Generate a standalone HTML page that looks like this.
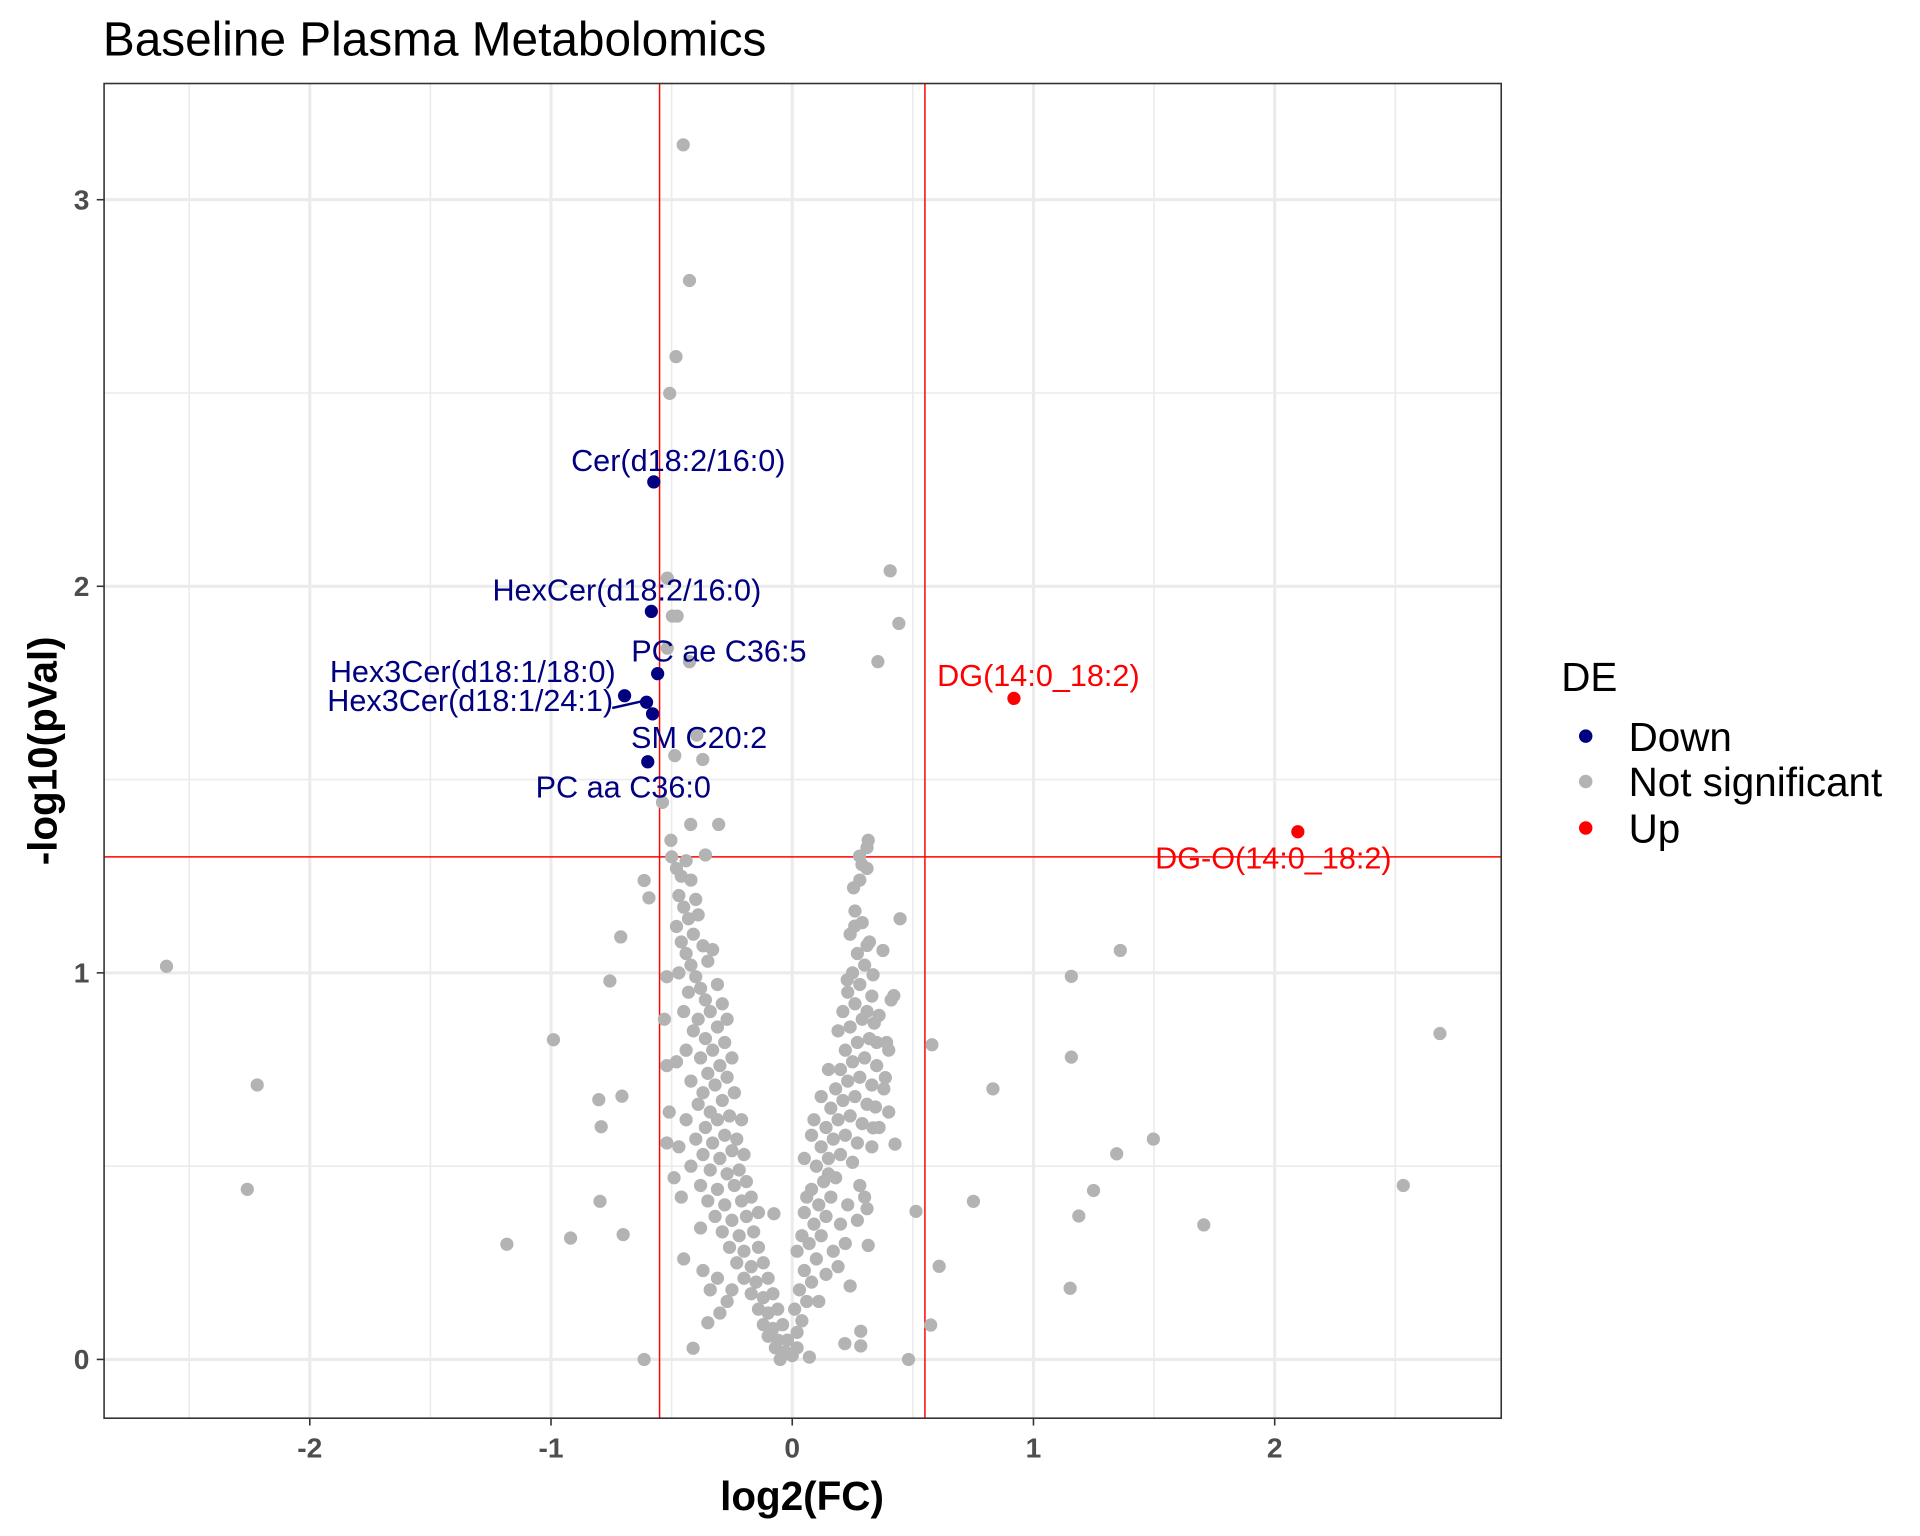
<!DOCTYPE html>
<html><head><meta charset="utf-8"><style>
html,body{margin:0;padding:0;background:#fff;}
svg{display:block;font-family:"Liberation Sans",Arial,sans-serif;}
</style></head><body>
<svg id="chart" width="1920" height="1536" viewBox="0 0 1568 1254" xmlns="http://www.w3.org/2000/svg">
<rect x="0" y="0" width="1568" height="1254" fill="#fff"/>
<text x="84" y="45" font-size="39" fill="#000">Baseline Plasma Metabolomics</text>
<g id="grid"></g>
<g id="thresholds"></g>
<g id="points"></g>
<g id="labels"></g>
<rect x="85" y="68" width="1141" height="1090" fill="none" stroke="#333" stroke-width="1.3"/>
<g id="axes"></g>
<text x="655" y="1233" font-size="33" font-weight="bold" text-anchor="middle">log2(FC)</text>
<text transform="translate(46,613) rotate(-90)" font-size="33" font-weight="bold" text-anchor="middle">-log10(pVal)</text>
<g>
<text x="1275" y="564" font-size="33">DE</text>
<circle cx="1295" cy="601" r="5.5" fill="#000080"/>
<text x="1330" y="613" font-size="33">Down</text>
<circle cx="1295" cy="638" r="5.5" fill="#B3B3B3"/>
<text x="1330" y="650" font-size="33">Not significant</text>
<circle cx="1295" cy="676" r="5.5" fill="#FF0000"/>
<text x="1330" y="688" font-size="33">Up</text>
</g>
</svg>
<script>
const xTicks=[-2,-1,0,1,2];
const xMinor=[-2.5,-1.5,-0.5,0.5,1.5,2.5];
const yTicks=[0,1,2,3];
const yMinor=[0.5,1.5,2.5];
const fcCut=[-0.55,0.55];
const pCut=1.3;
const grayX=[-2.594,-2.218,-2.259,-1.183,-0.919,-0.701,-0.797,-0.990,-0.756,-0.711,-0.792,-0.802,-0.706,-0.614,-0.594,-0.452,-0.426,-0.482,-0.508,-0.518,-0.497,-0.477,0.406,0.442,0.355,1.157,1.360,1.157,0.832,1.497,1.345,1.249,1.188,0.751,0.513,1.706,2.533,2.685,1.152,0.609,0.574,0.482,0.579,0.426,0.447,-0.614,-0.411,-0.350,0.284,0.284,0.218,0.071,-0.076,0.315,0.310,
-0.396,-0.371,-0.487,-0.305,-0.421,-0.360,-0.538,-0.503,0.315,0.310,0.279,0.289,0.254,0.259,0.310,0.376,0.335,0.228,0.421,0.391,0.386,0.345,0.335,-0.518,-0.426,
-0.50,-0.48,-0.46,-0.44,-0.42,-0.47,-0.45,-0.40,-0.43,-0.48,-0.46,-0.41,-0.39,-0.44,-0.37,-0.42,-0.47,-0.40,-0.35,-0.33,-0.38,-0.43,-0.36,-0.31,-0.45,-0.39,-0.34,-0.29,-0.41,-0.36,-0.31,-0.27,-0.44,-0.38,-0.33,-0.28,-0.48,-0.35,-0.30,-0.25,-0.42,-0.37,-0.32,-0.27,-0.39,-0.34,-0.29,-0.24,-0.44,-0.36,-0.31,-0.26,-0.21,-0.40,-0.33,-0.28,-0.23,-0.47,-0.37,-0.30,-0.25,-0.20,-0.42,-0.34,-0.27,-0.22,-0.38,-0.31,-0.24,-0.19,-0.35,-0.28,-0.21,-0.17,-0.32,-0.25,-0.19,-0.14,-0.29,-0.22,-0.16,-0.26,-0.20,-0.14,-0.23,-0.17,-0.12,-0.20,-0.15,-0.10,-0.25,-0.17,-0.12,-0.08,-0.14,-0.10,-0.06,-0.12,-0.08,-0.04,-0.10,-0.06,-0.02,-0.07,-0.03,0.00,-0.05,0.02,
-0.52,-0.53,-0.52,-0.51,-0.52,-0.49,-0.46,-0.45,-0.37,-0.34,-0.30,-0.31,-0.27,-0.38,
0.02,0.04,0.01,0.06,0.03,0.08,0.05,0.10,0.02,0.07,0.12,0.09,0.14,0.05,0.11,0.16,0.08,0.13,0.18,0.10,0.15,0.20,0.25,0.12,0.17,0.22,0.27,0.14,0.19,0.24,0.29,0.16,0.21,0.26,0.31,0.18,0.23,0.28,0.33,0.20,0.25,0.30,0.35,0.22,0.27,0.32,0.19,0.24,0.29,0.34,0.21,0.26,0.31,0.36,0.23,0.28,0.33,0.25,0.30,0.27,0.32,0.24,0.29,0.26,0.28,0.31,0.15,0.08,0.05,0.36,0.38,0.33,0.28,0.23,0.20,0.17,0.14,0.11,0.35,0.40,0.12,0.09,0.15,0.30,0.27,0.22,0.19,0.24,0.04,0.06,0.40,0.41];
const grayY=[1.017,0.710,0.440,0.298,0.314,0.323,0.409,0.827,0.979,1.093,0.602,0.672,0.681,1.239,1.194,3.142,2.791,2.594,2.499,2.021,1.923,1.923,2.040,1.904,1.805,0.991,1.058,0.782,0.700,0.570,0.532,0.437,0.371,0.409,0.383,0.348,0.450,0.843,0.184,0.241,0.089,0.000,0.814,0.557,1.140,0,0.029,0.095,0.073,0.035,0.041,0.006,0.377,0.295,0.390,
1.615,1.552,1.562,1.384,1.384,1.305,1.441,1.343,1.343,1.324,1.302,1.280,1.220,1.121,1.071,1.058,0.995,0.982,0.941,0.820,0.729,0.653,0.599,1.840,1.805,
1.30,1.27,1.25,1.29,1.24,1.20,1.17,1.19,1.14,1.12,1.08,1.10,1.15,1.05,1.07,1.02,1.00,0.99,1.03,1.06,0.96,0.95,0.93,0.97,0.90,0.88,0.90,0.92,0.85,0.83,0.86,0.88,0.80,0.78,0.80,0.82,0.77,0.74,0.76,0.78,0.72,0.69,0.71,0.73,0.66,0.64,0.67,0.69,0.62,0.60,0.62,0.63,0.62,0.57,0.56,0.58,0.57,0.55,0.53,0.52,0.54,0.53,0.50,0.49,0.48,0.49,0.45,0.44,0.45,0.46,0.41,0.40,0.41,0.42,0.37,0.36,0.37,0.38,0.33,0.32,0.33,0.29,0.28,0.29,0.25,0.24,0.25,0.21,0.20,0.21,0.18,0.17,0.16,0.17,0.13,0.12,0.13,0.09,0.08,0.09,0.06,0.05,0.05,0.03,0.02,0.01,0.00,0.03,
0.99,0.88,0.76,0.64,0.56,0.47,0.42,0.26,0.23,0.18,0.12,0.21,0.15,0.34,
0.07,0.10,0.13,0.15,0.18,0.20,0.23,0.26,0.28,0.30,0.32,0.35,0.37,0.38,0.40,0.42,0.44,0.46,0.47,0.50,0.52,0.53,0.51,0.55,0.57,0.58,0.56,0.60,0.62,0.63,0.61,0.65,0.67,0.68,0.66,0.70,0.72,0.73,0.71,0.75,0.77,0.78,0.76,0.80,0.82,0.83,0.85,0.86,0.88,0.87,0.90,0.92,0.90,0.89,0.95,0.97,0.94,1.00,1.02,1.05,1.08,1.10,1.13,1.16,1.24,1.27,0.48,0.58,0.52,0.60,0.70,0.55,0.45,0.40,0.35,0.28,0.22,0.15,0.82,0.80,0.68,0.62,0.75,0.42,0.36,0.30,0.24,0.19,0.32,0.42,0.64,0.93];
const downX=[-0.574,-0.584,-0.558,-0.695,-0.604,-0.579,-0.599];
const downY=[2.27,1.935,1.774,1.717,1.70,1.67,1.546];
const downNames=["Cer(d18:2/16:0)","HexCer(d18:2/16:0)","PC ae C36:5","Hex3Cer(d18:1/18:0)","Hex3Cer(d18:1/24:1)","SM C20:2","PC aa C36:0"];
const upX=[0.919,2.096];
const upY=[1.71,1.365];
const upNames=["DG(14:0_18:2)","DG-O(14:0_18:2)"];

const NS='http://www.w3.org/2000/svg';
const X=v=>647+v*197, Y=v=>1110-v*315.7;
const L=85,R=1226,T=68,B=1158;
function mk(tag,attrs,parent){const e=document.createElementNS(NS,tag);for(const k in attrs)e.setAttribute(k,attrs[k]);parent.appendChild(e);return e;}
const grid=document.getElementById('grid'),axes=document.getElementById('axes');
xMinor.forEach(v=>{const e=mk('line',{x1:X(v),x2:X(v),y1:T,y2:B,stroke:'#EBEBEB','stroke-width':1.3},grid);

});
yMinor.forEach(v=>{const e=mk('line',{x1:L,x2:R,y1:Y(v),y2:Y(v),stroke:'#EBEBEB','stroke-width':1.3},grid);

});
xTicks.forEach(v=>{const e=mk('line',{x1:X(v),x2:X(v),y1:T,y2:B,stroke:'#EBEBEB','stroke-width':2.5},grid);


const t=mk('line',{x1:X(v),x2:X(v),y1:B,y2:B+6,stroke:'#333','stroke-width':1.3},axes);


const l=mk('text',{x:X(v),y:B+32,'font-size':23,'font-weight':'bold',fill:'#4D4D4D','text-anchor':'middle'},axes);
l.textContent=v;

});
yTicks.forEach(v=>{const e=mk('line',{x1:L,x2:R,y1:Y(v),y2:Y(v),stroke:'#EBEBEB','stroke-width':2.5},grid);


const t=mk('line',{x1:L-6,x2:L,y1:Y(v),y2:Y(v),stroke:'#333','stroke-width':1.3},axes);


const l=mk('text',{x:L-12,y:Y(v)+8,'font-size':23,'font-weight':'bold',fill:'#4D4D4D','text-anchor':'end'},axes);
l.textContent=v;

});
const th=document.getElementById('thresholds');
fcCut.forEach(v=>{const e=mk('line',{x1:X(v),x2:X(v),y1:T,y2:B,stroke:'#FF0000','stroke-width':1.2},th);

});
{const e=mk('line',{x1:L,x2:R,y1:Y(pCut),y2:Y(pCut),stroke:'#FF0000','stroke-width':1.2},th);

}
const pts=document.getElementById('points');
grayX.forEach((v,i)=>{const c=mk('circle',{cx:X(v),cy:Y(grayY[i]),r:5.4,fill:'#B3B3B3'},pts);

});
const lab=document.getElementById('labels');
const downOff=[[20,-9],[-20,-9],[50,-10],[-124,-11],[-144,7],[38,28],[-20,29]];
downX.forEach((v,i)=>{const c=mk('circle',{cx:X(v),cy:Y(downY[i]),r:5.4,fill:'#000080'},pts);


const t=mk('text',{x:X(v)+downOff[i][0],y:Y(downY[i])+downOff[i][1],'font-size':25,fill:'#000080','text-anchor':'middle'},lab);
t.textContent=downNames[i];

});
{const s=mk('line',{x1:500,y1:578,x2:X(downX[4])-3,y2:Y(downY[4])-1,stroke:'#000080','stroke-width':2},lab);

}
const upOff=[[20,-10],[-20,30]];
upX.forEach((v,i)=>{const c=mk('circle',{cx:X(v),cy:Y(upY[i]),r:5.4,fill:'#FF0000'},pts);


const t=mk('text',{x:X(v)+upOff[i][0],y:Y(upY[i])+upOff[i][1],'font-size':25,fill:'#FF0000','text-anchor':'middle'},lab);
t.textContent=upNames[i];

});
</script>
</body></html>
